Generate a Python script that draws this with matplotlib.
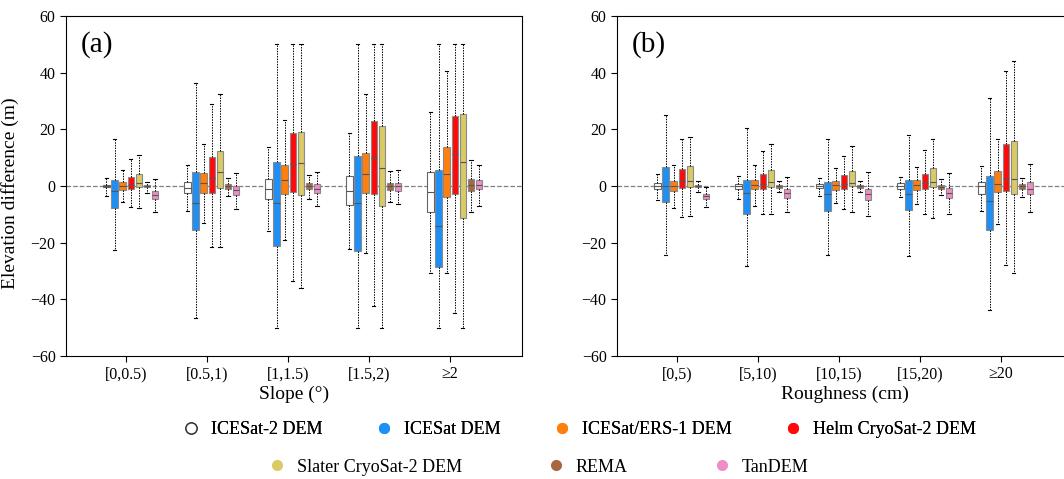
import numpy as np
import matplotlib
matplotlib.use('Agg')
import matplotlib.pyplot as plt
from matplotlib.lines import Line2D

plt.rcParams['font.family'] = ['Liberation Serif', 'DejaVu Serif']
plt.rcParams['axes.unicode_minus'] = True

# Datasets (order of boxes in every group)
names = ['ICESat-2 DEM', 'ICESat DEM', 'ICESat/ERS-1 DEM', 'Helm CryoSat-2 DEM',
         'Slater CryoSat-2 DEM', 'REMA', 'TanDEM']
colors = ['white', '#1E8FF5', '#FF7F0E', '#FF0A0A', '#D9CA66', '#A8683F', '#F08CC6']

# (a) slope classes: rows = class, cols = dataset
slope_labels = ['[0,0.5)', '[0.5,1)', '[1,1.5)', '[1.5,2)', '≥2']
slope_q1 = [[-0.5, -7.8, -1.3, -1.1, -0.4, -0.5, -4.7],
            [-2.5, -15.7, -2.5, -2.5, -0.8, -0.9, -3.2],
            [-4.7, -21.0, -2.9, -2.1, -3.1, -0.9, -2.4],
            [-6.6, -23.1, -2.4, -2.9, -6.9, -1.3, -1.9],
            [-9.2, -28.6, -3.9, -2.9, -11.2, -1.9, -1.2]]
slope_med = [[0.0, -1.9, 0.0, 0.5, 1.1, 0.0, -3.3],
             [-0.7, -5.9, 0.9, 2.8, 4.8, 0.0, -1.5],
             [-1.1, -5.9, 2.2, 7.9, 8.1, 0.0, -0.9],
             [-1.8, -6.0, 4.4, 10.0, 6.5, 0.0, -0.1],
             [-2.1, -14.0, 4.4, 11.3, 8.6, 0.5, 0.5]]
slope_q3 = [[0.5, 2.0, 1.4, 3.1, 4.4, 0.5, -1.8],
            [1.4, 4.9, 4.7, 10.2, 12.5, 0.7, 0.0],
            [2.6, 8.5, 7.3, 18.7, 19.1, 0.9, 0.6],
            [3.4, 10.6, 11.5, 23.0, 21.2, 1.2, 1.2],
            [5.1, 5.5, 13.8, 24.7, 25.4, 2.6, 2.1]]
slope_lo = [[-3.6, -22.5, -5.7, -7.4, -7.8, -2.4, -9.3],
            [-8.8, -46.6, -13.0, -21.6, -21.6, -3.5, -8.0],
            [-16.0, -50.0, -19.0, -33.7, -35.9, -4.5, -7.1],
            [-22.1, -50.0, -23.7, -42.2, -50.0, -5.8, -6.4],
            [-30.7, -50.0, -30.7, -44.8, -50.0, -9.0, -7.1]]
slope_hi = [[3.0, 16.7, 5.5, 9.4, 11.0, 1.4, 2.6],
            [7.5, 36.2, 15.0, 29.0, 32.5, 2.7, 4.6],
            [13.8, 50.0, 23.2, 50.0, 50.0, 4.0, 4.9],
            [18.8, 50.0, 32.5, 50.0, 50.0, 5.3, 5.5],
            [26.0, 50.0, 40.6, 50.0, 50.0, 9.1, 7.5]]

# (b) roughness classes
rough_labels = ['[0,5)', '[5,10)', '[10,15)', '[15,20)', '≥20']
rough_q1 = [[-0.9, -5.7, -1.8, -0.7, -0.4, -0.4, -4.6],
            [-1.1, -9.8, -1.2, -1.1, -0.2, -0.6, -4.2],
            [-0.6, -8.8, -1.4, -1.1, -0.1, -0.6, -4.8],
            [-0.9, -8.6, -1.4, -1.1, -0.2, -1.1, -4.2],
            [-2.7, -15.4, -2.1, -1.9, -2.7, -0.9, -2.7]]
rough_med = [[0.0, 0.0, 0.0, 1.6, 1.8, 0.0, -3.7],
             [0.0, -2.4, 0.5, 0.7, 1.4, 0.0, -2.5],
             [0.0, -2.7, 0.2, 0.8, 1.2, 0.0, -2.7],
             [0.0, -2.7, 0.5, 1.1, 1.5, -0.3, -2.5],
             [0.0, -5.2, 0.6, 2.8, 2.5, 0.0, -1.1]]
rough_q3 = [[0.9, 6.7, 1.9, 6.1, 7.1, 0.5, -2.7],
            [0.8, 2.0, 2.1, 4.4, 5.7, 0.5, -1.2],
            [0.7, 1.3, 1.9, 3.8, 5.3, 0.5, -0.9],
            [0.9, 2.0, 2.1, 4.4, 6.2, 0.4, -0.7],
            [1.4, 3.4, 5.3, 15.0, 16.0, 0.8, 1.3]]
rough_lo = [[-4.8, -24.3, -7.8, -11.1, -10.7, -2.0, -7.5],
            [-4.6, -28.3, -7.2, -9.8, -10.0, -2.1, -9.0],
            [-3.4, -24.3, -6.1, -8.1, -9.3, -2.2, -10.7],
            [-3.9, -24.7, -6.5, -9.8, -11.2, -3.1, -9.8],
            [-8.8, -43.6, -13.5, -27.8, -30.7, -3.9, -9.0]]
rough_hi = [[4.2, 25.1, 7.5, 16.7, 17.3, 1.8, -0.2],
            [3.7, 20.3, 7.5, 12.4, 14.7, 1.6, 3.3],
            [2.9, 16.7, 6.2, 10.5, 14.1, 1.8, 4.9],
            [3.3, 18.0, 6.8, 12.8, 16.7, 2.4, 4.6],
            [7.2, 31.2, 16.7, 40.6, 44.2, 2.9, 7.7]]


def draw_panel(ax, labels, q1, med, q3, lo, hi, xlabel, tag, ylabel=None):
    ax.axhline(0, color='grey', ls='--', lw=0.9, zorder=0)
    x = np.arange(len(labels))
    for k in range(len(names)):
        stats = []
        for g in range(len(labels)):
            stats.append(dict(q1=q1[g][k], med=med[g][k], q3=q3[g][k],
                              whislo=lo[g][k], whishi=hi[g][k], fliers=[]))
        edge = '#666666' if k == 0 else '#8a8a8a'
        ax.bxp(stats, positions=x - 0.24 + 0.1 * k, widths=0.08,
               patch_artist=True, showfliers=False, manage_ticks=False,
               boxprops=dict(facecolor=colors[k], edgecolor=edge, lw=0.8),
               medianprops=dict(color='#555555', lw=0.8),
               whiskerprops=dict(color='black', lw=0.7, ls=(0, (1.5, 1.2))),
               capprops=dict(color='black', lw=0.8), capwidths=0.04)
    ax.set_xticks(x)
    ax.set_xticklabels(labels, fontsize=11.5)
    ax.set_xlim(-0.74, len(labels) - 1 + 0.89)
    ax.set_ylim(-60, 60)
    ax.set_yticks(np.arange(-60, 61, 20))
    ax.tick_params(axis='y', labelsize=11.5, length=4)
    ax.tick_params(axis='x', length=4)
    ax.set_xlabel(xlabel, fontsize=14, labelpad=2)
    if ylabel:
        ax.set_ylabel(ylabel, fontsize=14)
        ax.yaxis.set_label_coords(-0.103, 0.48)
    ax.text(0.033, 0.915, tag, transform=ax.transAxes, fontsize=21,
            va='center', ha='left')


fig = plt.figure(figsize=(10.64, 4.79), dpi=100)
ax1 = fig.add_axes([66 / 1064, 123 / 479, 456 / 1064, 340 / 479])
ax2 = fig.add_axes([617 / 1064, 123 / 479, 456 / 1064, 340 / 479])

draw_panel(ax1, slope_labels, slope_q1, slope_med, slope_q3, slope_lo, slope_hi,
           'Slope (°)', '(a)', 'Elevation difference (m)')
draw_panel(ax2, rough_labels, rough_q1, rough_med, rough_q3, rough_lo, rough_hi,
           'Roughness (cm)', '(b)')

handles = []
for k in range(len(names)):
    if k == 0:
        h = Line2D([], [], ls='none', marker='o', ms=8, mfc='white', mec='#333333', mew=1.0)
    else:
        h = Line2D([], [], ls='none', marker='o', ms=8, mfc=colors[k], mec='none')
    handles.append(h)

leg1 = fig.legend(handles[:4], names[:4], loc='center', bbox_to_anchor=(579 / 1064, 1 - 430 / 479),
                  ncol=4, frameon=False, fontsize=13, handlelength=1.0,
                  handletextpad=0.6, columnspacing=2.9)
fig.add_artist(leg1)
fig.legend(handles[4:], names[4:], loc='center', bbox_to_anchor=(538 / 1064, 1 - 467 / 479),
           ncol=3, frameon=False, fontsize=13, handlelength=1.0,
           handletextpad=0.6, columnspacing=4.7)

plt.savefig('out.png', dpi=100)
